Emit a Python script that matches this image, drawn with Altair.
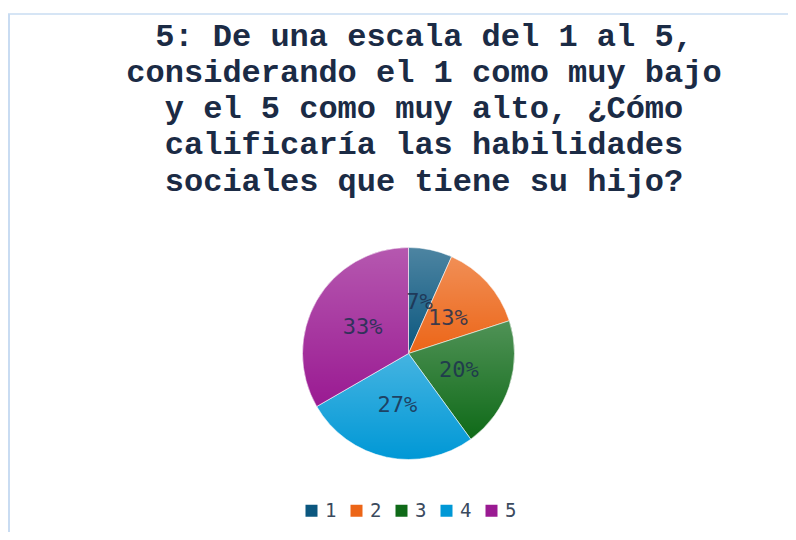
import altair as alt
import pandas as pd

categories = ["1", "2", "3", "4", "5"]
counts = [1, 2, 3, 4, 5]
pct_labels = ["7%", "13%", "20%", "27%", "33%"]
colors = ["#0b577f", "#ec6517", "#0f6a18", "#0098d6", "#9a1a92"]
title_lines = [
    "5: De una escala del 1 al 5,",
    "considerando el 1 como muy bajo",
    "y el 5 como muy alto, ¿Cómo",
    "calificaría las habilidades",
    "sociales que tiene su hijo?",
]

df = pd.DataFrame({"cat": categories, "n": counts, "lab": pct_labels})
one = pd.DataFrame({"a": [0]})

CX, CY, R = 400.5, 345.5, 106
MONO = "'Liberation Mono', 'Courier New', Cousine, monospace"

base = alt.Chart(df)

pie = base.mark_arc(radius=R, stroke="white", strokeWidth=0.8, strokeOpacity=0.7).encode(
    x=alt.value(CX), y=alt.value(CY),
    theta=alt.Theta("n:Q", stack=True),
    order=alt.Order("cat:O"),
    color=alt.Color("cat:N", scale=alt.Scale(domain=categories, range=colors),
                    legend=alt.Legend(title=None, orient="none", legendX=294, legendY=493,
                                      direction="horizontal", symbolType="square",
                                      symbolSize=144, symbolStrokeWidth=0,
                                      labelFont="DejaVu Sans Mono", labelFontSize=19,
                                      labelColor="#3b4a5e", labelOffset=4,
                                      columnPadding=10, padding=0)),
)

shine = base.mark_arc(
    radius=R,
    color=alt.Gradient(gradient="linear", x1=0, x2=0, y1=0, y2=1,
                       stops=[alt.GradientStop(color="rgba(255,255,255,0.27)", offset=0),
                              alt.GradientStop(color="rgba(255,255,255,0)", offset=1)]),
).encode(
    x=alt.value(CX), y=alt.value(CY),
    theta=alt.Theta("n:Q", stack=True),
    order=alt.Order("cat:O"),
)

labels = base.mark_text(radius=53, font="DejaVu Sans Mono", fontSize=22,
                        color="#1d3150", opacity=0.85).encode(
    x=alt.value(CX), y=alt.value(CY),
    theta=alt.Theta("n:Q", stack=True),
    order=alt.Order("cat:O"),
    text="lab:N",
)

title = alt.Chart(one).mark_text(font=MONO, fontSize=32, fontWeight="bold",
                                 color="#1b2b45", align="center", baseline="alphabetic",
                                 lineHeight=36.25).encode(
    x=alt.value(416), y=alt.value(37.5), text=alt.value(title_lines)
)

top_line = alt.Chart(one).mark_rule(color="#c9dcf2", strokeWidth=1.6).encode(
    x=alt.value(0), x2=alt.value(780), y=alt.value(6)
)
left_line = alt.Chart(one).mark_rule(color="#c9dcf2", strokeWidth=2).encode(
    x=alt.value(1), y=alt.value(6), y2=alt.value(524)
)

chart = alt.layer(top_line, left_line, pie, shine, labels, title).properties(
    width=780, height=524, padding=0, autosize=alt.AutoSizeParams(type="none")
).configure_view(stroke=None)

chart.save("out.html", embed_options={"renderer": "svg", "actions": False})
